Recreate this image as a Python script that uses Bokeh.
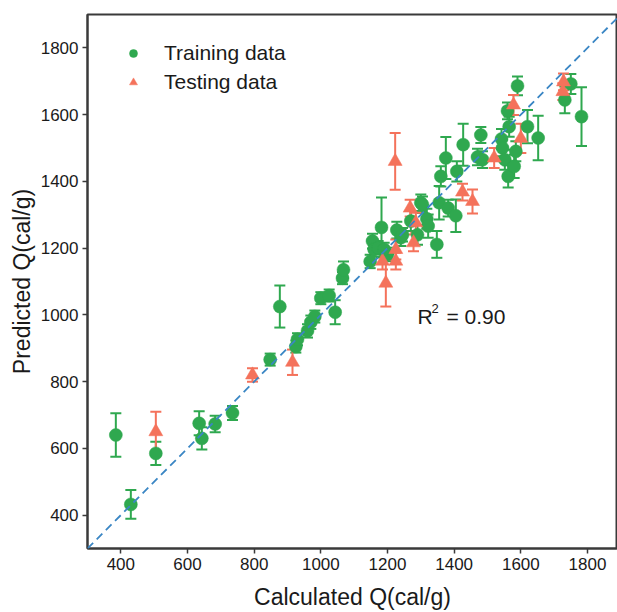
from bokeh.plotting import figure
from bokeh.models import (ColumnDataSource, Whisker, TeeHead, Slope, Label,
                          Legend, LegendItem, Range1d)
from bokeh.embed import file_html
from bokeh.resources import INLINE

# ---------------- data ----------------
train_x = [385, 430, 505, 635, 643, 683, 735, 848, 877, 925, 930, 960, 970, 982,
           1000, 1025, 1043, 1065, 1068, 1148, 1155, 1160, 1172, 1182, 1200, 1190,
           1228, 1240, 1245, 1270, 1290, 1300, 1305, 1318, 1322, 1348, 1355, 1360,
           1375, 1382, 1405, 1408, 1427, 1470, 1480, 1485, 1542, 1545, 1552, 1560,
           1565, 1562, 1580, 1585, 1590, 1620, 1652, 1732, 1750, 1782]
train_y = [640, 432, 585, 675, 630, 673, 706, 866, 1025, 905, 927, 952, 978, 995,
           1050, 1058, 1008, 1110, 1135, 1160, 1221, 1196, 1201, 1262, 1181, 1196,
           1254, 1231, 1240, 1281, 1240, 1336, 1330, 1288, 1266, 1211, 1336, 1415,
           1470, 1320, 1297, 1430, 1510, 1473, 1539, 1465, 1527, 1500, 1465, 1611,
           1564, 1415, 1445, 1490, 1686, 1564, 1530, 1644, 1692, 1594]
train_err = [65, 43, 35, 36, 33, 25, 21, 18, 63, 18, 18, 20, 20, 18,
             18, 18, 36, 18, 25, 20, 22, 22, 20, 90, 20, 20,
             25, 25, 20, 30, 30, 25, 25, 30, 35, 40, 50, 30,
             63, 25, 49, 30, 63, 25, 24, 25, 30, 25, 30, 25,
             30, 33, 35, 30, 28, 50, 67, 40, 30, 88]

test_x = [505, 795, 915, 1195, 1185, 1223, 1225, 1225, 1268, 1278, 1285, 1425,
          1455, 1520, 1578, 1600, 1726, 1728]
test_y = [650, 820, 858, 1095, 1161, 1460, 1196, 1161, 1320, 1216, 1276, 1368,
          1340, 1470, 1629, 1529, 1669, 1698]
test_err = [60, 20, 38, 70, 25, 85, 30, 25, 25, 25, 30, 25,
            36, 30, 30, 44, 25, 25]

x_axis_range = [300, 1890]
y_axis_range = [300, 1900]
ticks = [400, 600, 800, 1000, 1200, 1400, 1600, 1800]
r2_text = "0.90"

GREEN = "#2fa84f"
ORANGE = "#f4725b"
BLUE = "#3a86c4"
FONT = "Liberation Sans"

def make_source(xs, ys, es):
    return ColumnDataSource(dict(
        x=xs, y=ys,
        upper=[y + e for y, e in zip(ys, es)],
        lower=[y - e for y, e in zip(ys, es)],
    ))

src_train = make_source(train_x, train_y, train_err)
src_test = make_source(test_x, test_y, test_err)

p = figure(width=617, height=612,
           x_range=Range1d(*x_axis_range), y_range=Range1d(*y_axis_range),
           output_backend="svg", toolbar_location=None,
           min_border_left=87, min_border_right=0,
           min_border_top=14, min_border_bottom=62)

p.grid.visible = False
p.background_fill_color = "white"
p.border_fill_color = "white"
p.outline_line_color = "#3a3a3a"
p.outline_line_width = 2
p.outline_line_alpha = 1

for ax in (p.xaxis[0], p.yaxis[0]):
    ax.ticker = ticks
    ax.axis_line_color = "#3a3a3a"
    ax.axis_line_width = 2
    ax.major_tick_line_color = "#3a3a3a"
    ax.major_tick_line_width = 1.5
    ax.major_tick_out = 5
    ax.major_tick_in = 0
    ax.minor_tick_line_color = None
    ax.major_label_text_font = FONT
    ax.major_label_text_font_size = "17px"
    ax.major_label_text_color = "#1a1a1a"
    ax.axis_label_text_font = FONT
    ax.axis_label_text_font_size = "23px"
    ax.axis_label_text_font_style = "normal"
    ax.axis_label_text_color = "#1a1a1a"
    ax.major_label_standoff = 4

p.xaxis.axis_label = "Calculated Q(cal/g)"
p.yaxis.axis_label = "Predicted Q(cal/g)"
p.xaxis.axis_label_standoff = 11
p.yaxis.axis_label_standoff = 3

# y = x reference
p.add_layout(Slope(gradient=1, y_intercept=0, line_color=BLUE,
                   line_width=1.8, line_dash="8 5"))

# error bars
for src, col in ((src_train, GREEN), (src_test, ORANGE)):
    w = Whisker(source=src, base="x", upper="upper", lower="lower",
                dimension="height", line_color=col, line_width=2,
                upper_head=TeeHead(size=11, line_color=col, line_width=2),
                lower_head=TeeHead(size=11, line_color=col, line_width=2))
    p.add_layout(w)

r_train = p.scatter("x", "y", source=src_train, marker="circle", size=13,
                    fill_color=GREEN, line_color=GREEN, line_width=0.5)
r_test = p.scatter("x", "y", source=src_test, marker="triangle", size=14,
                   fill_color=ORANGE, line_color=ORANGE, line_width=0.5)

legend = Legend(items=[LegendItem(label="Training data", renderers=[r_train]),
                       LegendItem(label="Testing data", renderers=[r_test])],
                location="top_left", margin=27, padding=0,
                glyph_width=38, glyph_height=20, label_height=20,
                label_standoff=12, spacing=5,
                label_text_font=FONT, label_text_font_size="21px",
                label_text_color="#1a1a1a",
                border_line_color=None, background_fill_alpha=0)
p.add_layout(legend)

# R^2 annotation
p.add_layout(Label(x=1290, y=995, text="R", text_font=FONT,
                   text_font_size="21px", text_color="#1a1a1a",
                   text_baseline="alphabetic"))
p.add_layout(Label(x=1290, y=995, x_offset=14, y_offset=8, text="2",
                   text_font=FONT, text_font_size="13px", text_color="#1a1a1a",
                   text_baseline="alphabetic"))
p.add_layout(Label(x=1290, y=995, x_offset=29, text="= " + r2_text,
                   text_font=FONT, text_font_size="21px", text_color="#1a1a1a",
                   text_baseline="alphabetic"))

open("out.html", "w").write(file_html(p, INLINE))
